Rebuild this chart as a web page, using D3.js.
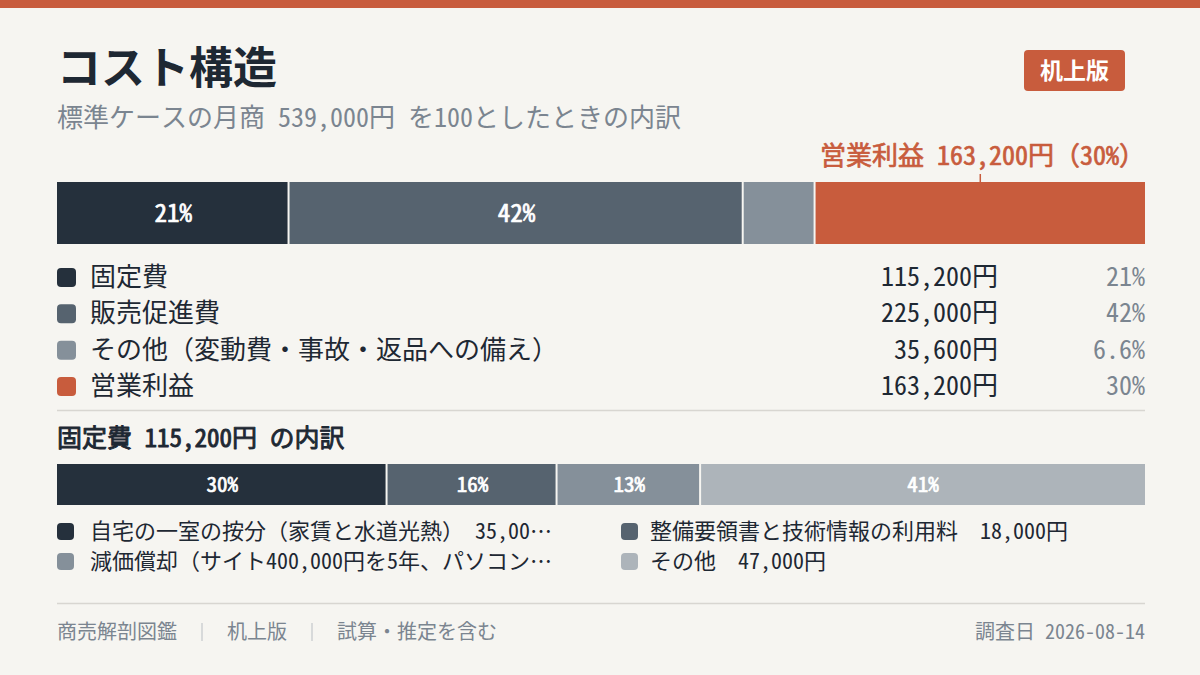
<!DOCTYPE html>
<html lang="ja">
<head>
<meta charset="utf-8">
<script src="https://cdn.jsdelivr.net/npm/d3@7"></script>
<style>
  html, body { margin: 0; padding: 0; background: #F6F5F1; }
  svg { display: block; font-family: "Noto Sans Mono CJK JP", "Noto Sans CJK JP", sans-serif; }
  .medium { paint-order: stroke; stroke-width: 0.7px; stroke-linejoin: round; }
</style>
</head>
<body>
<div id="chart"></div>
<script>
// main breakdown (standard case, monthly sales)
const mainCategories = ["固定費", "販売促進費", "その他（変動費・事故・返品への備え）", "営業利益"];
const mainValues = [115200, 225000, 35600, 163200];
const mainColors = ["#25303C", "#56636F", "#85909A", "#C85C3D"];

// fixed cost breakdown
const fixedCategories = ["自宅の一室の按分（家賃と水道光熱）", "整備要領書と技術情報の利用料", "減価償却（サイト400,000円を5年、パソコンを4年）", "その他"];
const fixedValues = [35000, 18000, 15200, 47000];
const fixedColors = ["#25303C", "#56636F", "#85909A", "#ADB4BA"];

const footerItems = ["商売解剖図鑑", "机上版", "試算・推定を含む"];
const surveyDate = "2026-08-14";

const W = 1200, H = 675;
const left = 57, right = 1145;
const dark = "#1E2833", gray = "#7B8590", accent = "#C85C3D", rule = "#D8D6D1";

const yen = v => d3.format(",")(v) + "円";
const pct = (v, total) => {
    const p = v / total * 100;
    return (p < 10 ? d3.format(".1f")(p) : d3.format(".0f")(p)) + "%";
};

function stack(values) {
    let acc = 0;
    return values.map((v, i) => {
        const d = { i, value: v, start: acc, end: acc + v };
        acc += v;
        return d;
    });
}

const svg = d3.select("#chart").append("svg")
    .attr("width", W)
    .attr("height", H);

svg.append("rect").attr("width", W).attr("height", H).attr("fill", "#F6F5F1");
svg.append("rect").attr("width", W).attr("height", 8).attr("fill", accent);

// title
svg.append("text")
    .attr("x", left).attr("y", 84)
    .style("font-size", "44px").style("font-weight", 700)
    .attr("fill", dark)
    .text("コスト構造");

const mainTotal = d3.sum(mainValues);
svg.append("text")
    .attr("x", left).attr("y", 127)
    .style("font-size", "26px")
    .attr("fill", gray)
    .text(`標準ケースの月商 ${d3.format(",")(mainTotal)}円 を100としたときの内訳`);

// badge
const badge = svg.append("g").attr("transform", "translate(1024,50)");
badge.append("rect").attr("width", 101).attr("height", 41).attr("rx", 4).attr("fill", accent);
badge.append("text")
    .attr("x", 50.5).attr("y", 29)
    .attr("text-anchor", "middle")
    .style("font-size", "23px").style("font-weight", 700)
    .attr("fill", "#fff")
    .text("机上版");

// main stacked bar
const x = d3.scaleLinear().domain([0, mainTotal]).range([left, right]);
const mainStack = stack(mainValues);
const profitIndex = mainValues.length - 1;
const barTop = 182, barH = 62;

const mainBar = svg.append("g");
mainBar.selectAll("rect")
    .data(mainStack)
    .join("rect")
    .attr("x", d => x(d.start))
    .attr("y", barTop)
    .attr("width", d => x(d.end) - x(d.start) - (d.i < mainStack.length - 1 ? 2 : 0))
    .attr("height", barH)
    .attr("fill", d => mainColors[d.i]);

mainBar.selectAll("text")
    .data(mainStack.filter(d => d.i !== profitIndex && d.value / mainTotal >= 0.1))
    .join("text")
    .attr("class", "medium")
    .attr("x", d => (x(d.start) + x(d.end)) / 2)
    .attr("y", barTop + barH / 2 + 9)
    .attr("text-anchor", "middle")
    .style("font-size", "25px")
    .attr("fill", "#fff").attr("stroke", "#fff")
    .text(d => pct(d.value, mainTotal));

// profit callout
const profit = mainStack[profitIndex];
const profitMid = (x(profit.start) + x(profit.end)) / 2;
svg.append("line")
    .attr("x1", profitMid).attr("x2", profitMid)
    .attr("y1", 174).attr("y2", barTop)
    .attr("stroke", accent).attr("stroke-width", 1.5);
svg.append("text")
    .attr("class", "medium")
    .attr("x", right).attr("y", 165)
    .attr("text-anchor", "end")
    .style("font-size", "26px")
    .attr("fill", accent).attr("stroke", accent)
    .text(`${mainCategories[profitIndex]} ${yen(profit.value)}（${pct(profit.value, mainTotal)}）`);

// main legend table
const rowY = d3.scalePoint().domain(d3.range(mainCategories.length)).range([277, 386]);
const legend = svg.append("g");
const rows = legend.selectAll("g")
    .data(mainStack)
    .join("g")
    .attr("transform", d => `translate(0,${rowY(d.i)})`);
rows.append("rect")
    .attr("x", left).attr("y", -9)
    .attr("width", 19).attr("height", 19).attr("rx", 4)
    .attr("fill", d => mainColors[d.i]);
rows.append("text")
    .attr("x", 90).attr("y", 9)
    .style("font-size", "26px")
    .attr("fill", dark)
    .text(d => mainCategories[d.i]);
rows.append("text")
    .attr("x", 998).attr("y", 9)
    .attr("text-anchor", "end")
    .style("font-size", "26px")
    .attr("fill", dark)
    .text(d => yen(d.value));
rows.append("text")
    .attr("x", right).attr("y", 9)
    .attr("text-anchor", "end")
    .style("font-size", "26px")
    .attr("fill", gray)
    .text(d => pct(d.value, mainTotal));

svg.append("line")
    .attr("x1", left).attr("x2", right)
    .attr("y1", 410.5).attr("y2", 410.5)
    .attr("stroke", rule).attr("stroke-width", 1.5);

// fixed cost section
const fixedTotal = d3.sum(fixedValues);
svg.append("text")
    .attr("class", "medium")
    .attr("x", left).attr("y", 447)
    .style("font-size", "25px")
    .attr("fill", dark).attr("stroke", dark)
    .style("stroke-width", "0.9px")
    .text(`${mainCategories[0]} ${yen(fixedTotal)} の内訳`);

const x2 = d3.scaleLinear().domain([0, fixedTotal]).range([left, right]);
const fixedStack = stack(fixedValues);
const subTop = 464, subH = 41;
const subBar = svg.append("g");
subBar.selectAll("rect")
    .data(fixedStack)
    .join("rect")
    .attr("x", d => x2(d.start))
    .attr("y", subTop)
    .attr("width", d => x2(d.end) - x2(d.start) - (d.i < fixedStack.length - 1 ? 2 : 0))
    .attr("height", subH)
    .attr("fill", d => fixedColors[d.i]);
subBar.selectAll("text")
    .data(fixedStack)
    .join("text")
    .attr("class", "medium")
    .attr("x", d => (x2(d.start) + x2(d.end)) / 2)
    .attr("y", subTop + subH / 2 + 7.5)
    .attr("text-anchor", "middle")
    .style("font-size", "21px")
    .attr("fill", "#fff").attr("stroke", "#fff")
    .text(d => pct(d.value, fixedTotal));

// fixed cost legend, two columns
const colX = [57, 621];
const subRowY = [531, 561];
const maxLabel = 464;
const subItems = svg.append("g").selectAll("g")
    .data(fixedStack)
    .join("g")
    .attr("transform", d => `translate(${colX[d.i % 2]},${subRowY[Math.floor(d.i / 2)]})`);
subItems.append("rect")
    .attr("x", 0).attr("y", -8)
    .attr("width", 17).attr("height", 17).attr("rx", 4)
    .attr("fill", d => fixedColors[d.i]);
subItems.append("text")
    .attr("x", d => d.i % 2 ? 29 : 33).attr("y", 8)
    .style("font-size", "22px")
    .attr("fill", dark)
    .text(d => `${fixedCategories[d.i]}\u3000${yen(d.value)}`)
    .each(function () {
        const t = d3.select(this);
        let s = t.text();
        if (this.getComputedTextLength() <= maxLabel) return;
        while (s.length > 1 && this.getComputedTextLength() > maxLabel) {
            s = s.slice(0, -1);
            t.text(s + "…");
        }
    });

svg.append("line")
    .attr("x1", left).attr("x2", right)
    .attr("y1", 603.5).attr("y2", 603.5)
    .attr("stroke", rule).attr("stroke-width", 1.5);

// footer
const footer = svg.append("g");
let fx = left;
footerItems.forEach((s, i) => {
    const t = footer.append("text")
        .attr("x", fx).attr("y", 639)
        .style("font-size", "20px")
        .attr("fill", gray)
        .text(s);
    fx += t.node().getComputedTextLength();
    if (i < footerItems.length - 1) {
        footer.append("line")
            .attr("x1", fx + 25).attr("x2", fx + 25)
            .attr("y1", 623).attr("y2", 641)
            .attr("stroke", "#B9BEC3").attr("stroke-width", 1);
        fx += 50;
    }
});
footer.append("text")
    .attr("x", right).attr("y", 639)
    .attr("text-anchor", "end")
    .style("font-size", "20px")
    .attr("fill", gray)
    .text(`調査日 ${surveyDate}`);
</script>
</body>
</html>
